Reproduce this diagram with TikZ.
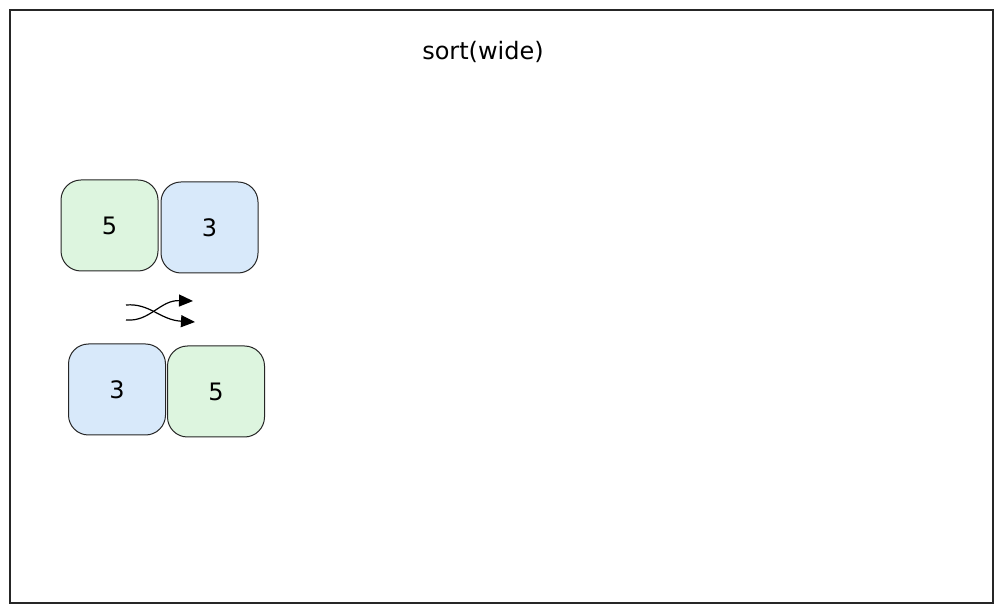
\documentclass[tikz,border=0pt]{standalone}
\usepackage{fontspec}
\setmainfont{DejaVu Sans}
\usetikzlibrary{arrows.meta}
\definecolor{gfill}{HTML}{DDF5DF}
\definecolor{bfill}{HTML}{D8E9FA}
\tikzset{
  cell/.style={draw=black!85, line width=0.5pt, rounded corners=10pt, minimum width=48.5pt, minimum height=45.5pt, inner sep=0pt, font=\fontsize{12}{14}\selectfont},
  gcell/.style={cell, fill=gfill},
  bcell/.style={cell, fill=bfill},
  swapline/.style={line width=0.6pt, -{Triangle[length=7pt,width=6pt]}}
}
\begin{document}
\begin{tikzpicture}[x=0.5pt,y=-0.5pt]
\useasboundingbox (0,0) rectangle (1004,613);
\fill[white] (0,0) rectangle (1004,613);
\node[draw=black!85, line width=0.6pt, minimum width=491.5pt, minimum height=296.5pt, inner sep=0pt] (frame) at (501.5,306.5) {};
\node[font=\fontsize{12}{14}\selectfont] (title) at (483,52) {sort(wide)};
\node[gcell] (a5) at (109.5,225.5) {5};
\node[bcell] (a3) at (209.5,227.5) {3};
\node[bcell] (b3) at (117,389.5) {3};
\node[gcell] (b5) at (216,391.5) {5};
\coordinate (s1) at (126,305);
\coordinate (s2) at (126,320);
\coordinate (e1) at (193,301);
\coordinate (e2) at (195,322);
\draw[swapline] (s1) .. controls (150,303) and (160,320) .. (e2);
\draw[swapline] (s2) .. controls (150,322) and (160,300) .. (e1);
\end{tikzpicture}
\end{document}
